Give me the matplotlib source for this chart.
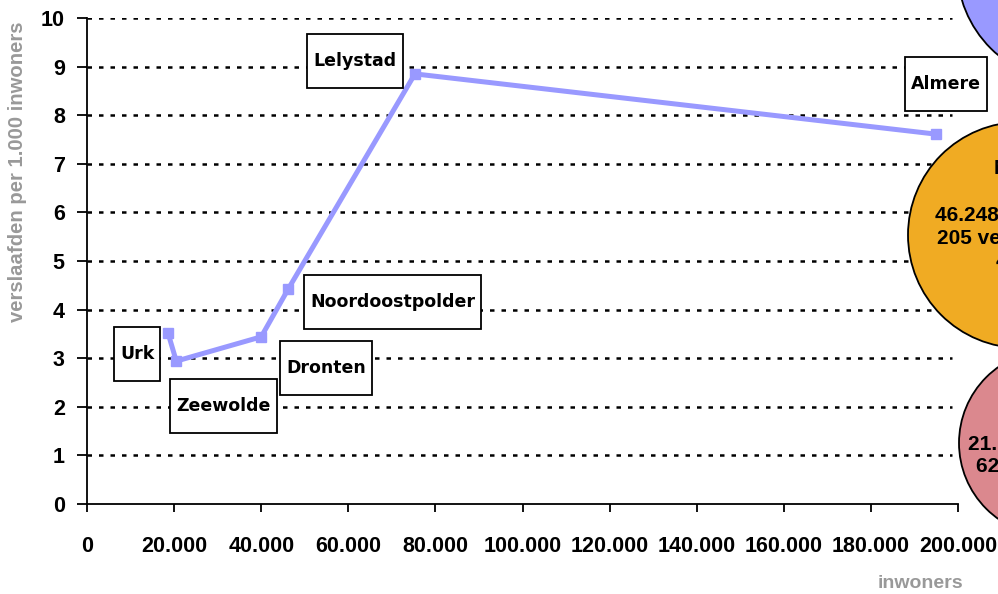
import matplotlib
matplotlib.use("Agg")
from matplotlib import pyplot as plt
from matplotlib.patches import Circle
from matplotlib.path import Path
from matplotlib.ticker import FuncFormatter, MultipleLocator


gemeenten = ["Urk", "Zeewolde", "Dronten", "Noordoostpolder", "Lelystad", "Almere"]
inwoners = [18600, 20500, 40000, 46248, 75300, 195000]
per_1000 = [3.52, 2.94, 3.44, 4.43, 8.85, 7.61]

# where each label box sits, in pixels from its point
label_offsets = [(-31, -21), (47, -45), (65, -31), (104, -13), (-60, 13), (10, 50)]

# bubbles of the overlaid chart, cut off by the right edge (figure pixels)
bubbles = [
    ((1072, -33), 115, "#9999ff", None, []),
    ((1021, 235), 113, "#f0ab23", 1016,
     [(168, "NOP"), (215, "46.248 inwoners"), (238, "205 verslaafden"), (262, "4,43")]),
    ((1052, 443), 93, "#db888e", 1049,
     [(397, "Zeewolde"), (444, "21.083 inwoners"), (466, "62 verslaafden"), (490, "2,94")]),
]

LINE = "#9999ff"
GREY = "#999999"
W, H = 998, 594
ARIAL = "Liberation Sans"

plt.rcParams["font.family"] = "DejaVu Sans"
plt.rcParams["font.weight"] = "bold"


def label_box(x0, y0, width, height, mutation_size):
    padx = 0.35 * mutation_size
    half = 1.55 * mutation_size
    cy = y0 + height / 2
    l, r = x0 - padx, x0 + width + padx
    b, t = cy - half, cy + half
    return Path([(l, b), (r, b), (r, t), (l, t), (l, b)], closed=True)


fig = plt.figure(figsize=(W / 100, H / 100), dpi=100)
ax = fig.add_axes([87 / W, 90 / H, 871 / W, 486 / H])

ax.set_xlim(0, 200000)
ax.set_ylim(0, 10)
ax.xaxis.set_major_locator(MultipleLocator(20000))
ax.yaxis.set_major_locator(MultipleLocator(1))
ax.xaxis.set_major_formatter(FuncFormatter(lambda v, p: f"{int(v):,}".replace(",", ".")))

for s in ["top", "right"]:
    ax.spines[s].set_visible(False)
for s in ["left", "bottom"]:
    ax.spines[s].set_linewidth(1.3)

ax.tick_params(axis="x", length=6, width=1.3, pad=17)
ax.tick_params(axis="y", length=7.5, width=1.3, pad=8.5)
for lab in ax.get_xticklabels() + ax.get_yticklabels():
    lab.set_fontfamily(ARIAL)
    lab.set_fontsize(15.5)

for yv in range(1, 11):
    ax.axhline(yv, xmin=0, xmax=0.993, color="black", lw=1.8,
               dashes=(1.8, 2.8), zorder=1)

ax.plot(inwoners, per_1000, color=LINE, lw=3.6, marker="s", markersize=7.8,
        zorder=3, clip_on=False)

for name, x, y, (dx, dy) in zip(gemeenten, inwoners, per_1000, label_offsets):
    ax.annotate(name, xy=(x, y), xytext=(dx, dy), textcoords="offset pixels",
                ha="center", va="center", fontsize=12.5, zorder=5,
                bbox=dict(boxstyle=label_box, fc="white", ec="black", lw=1.3))

ax.set_xlabel("inwoners", color=GREY, fontsize=14, fontfamily=ARIAL,
              fontweight="bold", va="center")
ax.xaxis.set_label_coords((920 - 87) / 871, (504 - 584) / 486)
ax.set_ylabel("verslaafden per 1.000 inwoners", color=GREY, fontsize=14.6,
              fontfamily=ARIAL, fontweight="bold", va="center", ha="center")
ax.yaxis.set_label_coords((18 - 87) / 871, (504 - 172) / 486)

for (cx, cy), r, col, tx, lines in bubbles:
    fig.add_artist(Circle((cx / 100, (H - cy) / 100), r / 100, fc=col, ec="black",
                          lw=1.3, transform=fig.dpi_scale_trans, zorder=2))
    for ly, txt in lines:
        fig.text(tx / W, 1 - ly / H, txt, ha="center", va="center",
                 fontsize=15, fontfamily=ARIAL, zorder=3)

fig.savefig("out.png", dpi=100)
